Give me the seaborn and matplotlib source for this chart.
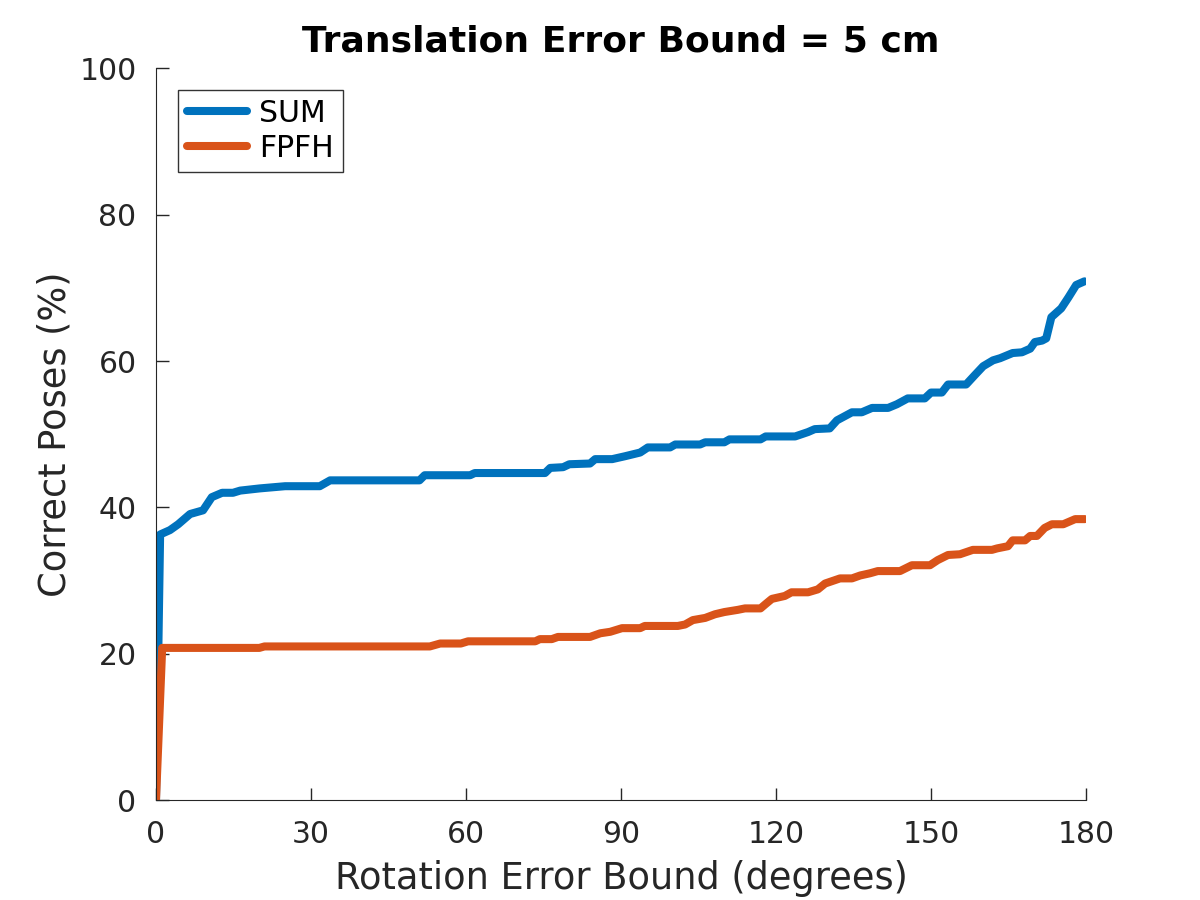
import numpy as np
import pandas as pd
import seaborn as sns
from matplotlib import pyplot as plt

# curve (rotation bound in degrees, % correct poses)
sum_deg = [0, 0.8, 2.7, 4.3, 6.6, 9.1, 10.8, 12.8, 14.9, 16.3, 20.1, 25, 31.7, 33.7,
           51, 52, 60.8, 61.7, 75.3, 76.3, 78.8, 80, 84, 85, 88.3, 90.8, 93.7, 95.2,
           99.5, 100.5, 105.3, 106.3, 110, 111, 117, 118, 123.7, 126.2, 127.5, 130.4,
           131.8, 134.7, 136.6, 138.6, 141.7, 143.4, 145.5, 148.8, 150, 152.1, 153.3,
           156.8, 158.5, 160.1, 162, 163.4, 165.8, 167.6, 169.2, 170.1, 171.5, 172.3,
           173.3, 175.2, 176.6, 178.1, 179.7]
sum_pct = [0, 36.3, 36.9, 37.7, 39.1, 39.6, 41.4, 42, 42, 42.3, 42.6, 42.9, 42.9, 43.7,
           43.7, 44.4, 44.4, 44.7, 44.7, 45.4, 45.5, 45.9, 46, 46.6, 46.6, 47, 47.5, 48.2,
           48.2, 48.6, 48.6, 48.9, 48.9, 49.3, 49.3, 49.7, 49.7, 50.3, 50.7, 50.8,
           51.9, 53, 53, 53.6, 53.6, 54.1, 54.9, 54.9, 55.7, 55.7, 56.8,
           56.8, 58.1, 59.3, 60.1, 60.4, 61.1, 61.2, 61.7, 62.6, 62.8, 63.1,
           66, 67.2, 68.7, 70.4, 70.9]

fpfh_deg = [0, 1.2, 20, 21, 53, 55, 59, 60.4, 73.4, 74.3, 76.6, 77.8, 84, 86, 87.9, 90.2,
            93.7, 94.6, 101, 102.4, 103.9, 106.3, 108.2, 110, 112.6, 114, 117, 118, 119.2,
            121.7, 123, 126.2, 128.1, 129.5, 132.4, 134.7, 136.3, 138.2, 139.7, 144,
            146.3, 149.8, 151.3, 153.3, 155.6, 158.1, 161.8, 162.8, 164.9, 165.8, 168.2,
            169.2, 170.5, 172, 173.4, 175.6, 177.9, 179.8]
fpfh_pct = [0, 20.8, 20.8, 21, 21, 21.4, 21.4, 21.7, 21.7, 22, 22, 22.3, 22.3, 22.8, 23, 23.5,
            23.5, 23.8, 23.8, 24, 24.6, 24.9, 25.4, 25.7, 26, 26.2, 26.2, 26.8, 27.5,
            27.9, 28.4, 28.4, 28.8, 29.6, 30.3, 30.3, 30.7, 31, 31.3, 31.3,
            32.1, 32.1, 32.8, 33.5, 33.6, 34.2, 34.2, 34.4, 34.7, 35.5, 35.5,
            36.1, 36.1, 37.2, 37.7, 37.7, 38.4, 38.4]

df = pd.concat([
    pd.DataFrame({"deg": sum_deg, "pct": sum_pct, "method": "SUM"}),
    pd.DataFrame({"deg": fpfh_deg, "pct": fpfh_pct, "method": "FPFH"}),
])

sns.set_style("ticks")
plt.rcParams["font.family"] = ["DejaVu Sans"]
plt.rcParams["xtick.direction"] = "in"
plt.rcParams["ytick.direction"] = "in"

fig = plt.figure(figsize=(12, 9), dpi=100)
ax = fig.add_axes([0.13, 0.111, 0.775, 0.813])
sns.lineplot(data=df, x="deg", y="pct", hue="method", sort=False,
             palette={"SUM": "#0072BD", "FPFH": "#D95319"}, linewidth=5.8, ax=ax)

ax.set_xlim(0, 180)
ax.set_ylim(0, 100)
ax.set_xticks(np.arange(0, 181, 30))
ax.set_yticks(np.arange(0, 101, 20))
ax.tick_params(labelsize=21.5, colors="#262626", length=9, width=1)
ax.tick_params(axis="x", pad=14)
ax.tick_params(axis="y", pad=14)
for s in ["left", "bottom"]:
    ax.spines[s].set_color("#262626")
sns.despine(ax=ax)
ax.set_xlabel("Rotation Error Bound (degrees)", fontsize=26.5, color="#262626", labelpad=8)
ax.set_ylabel("Correct Poses (%)", fontsize=26.5, color="#262626", labelpad=4)
ax.set_title("Translation Error Bound = 5 cm", fontsize=26, fontweight="bold",
             color="black", pad=12)

leg = ax.legend(loc="upper left", bbox_to_anchor=(0.024, 0.971), borderaxespad=0,
                fontsize=21.5, fancybox=False, edgecolor="black", handlelength=2.0,
                borderpad=0.3, labelspacing=0.2, handletextpad=0.4)
leg.get_frame().set_linewidth(1)
for t in leg.get_texts():
    t.set_color("black")

fig.savefig("out.png", dpi=100)
